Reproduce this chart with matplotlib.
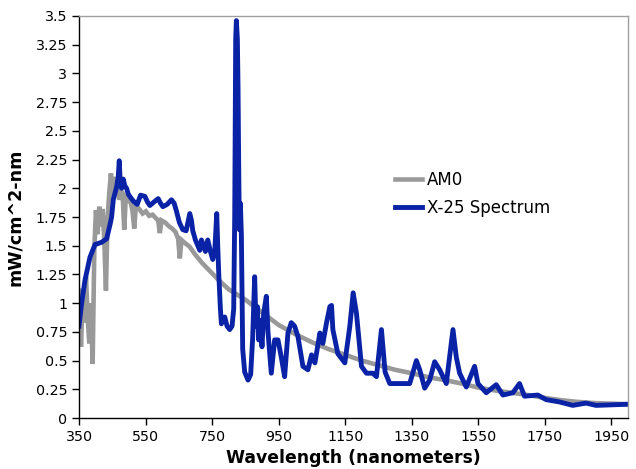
import matplotlib
matplotlib.use("Agg")
import matplotlib.pyplot as plt
from matplotlib.ticker import FixedLocator, FuncFormatter

# AM0 reference spectrum (wavelength nm, mW/cm^2-nm)
am0_nm = [350, 356, 361, 366, 371, 376, 381, 386, 391, 396, 401, 406, 411, 416, 421,
          426, 431, 436, 441, 446, 451, 456, 461, 466, 471, 476, 481, 486, 491, 498,
          506, 511, 516, 521, 531, 541, 551, 561, 571, 581, 588, 593, 598, 610, 620,
          630, 640, 648, 653, 658, 670, 683, 700, 720, 740, 770, 800, 850, 900, 950,
          1000, 1050, 1100, 1150, 1200, 1250, 1300, 1350, 1400, 1450, 1500, 1550,
          1600, 1650, 1700, 1750, 1800, 1850, 1900, 1950, 2000]
am0_val = [1.11, 0.62, 1.06, 0.83, 1.23, 0.88, 0.65, 1.00, 0.47, 1.46, 1.81, 1.60, 1.84, 1.67, 1.82,
           1.55, 1.11, 1.75, 1.96, 2.13, 1.90, 2.10, 1.95, 2.00, 1.90, 1.98, 1.96, 1.64, 1.95, 1.90,
           1.87, 1.80, 1.65, 1.85, 1.82, 1.78, 1.80, 1.76, 1.77, 1.74, 1.72, 1.61, 1.72, 1.70, 1.67,
           1.65, 1.62, 1.56, 1.39, 1.55, 1.52, 1.49, 1.42, 1.35, 1.29, 1.20, 1.12, 1.03, 0.92, 0.81,
           0.73, 0.66, 0.60, 0.55, 0.50, 0.46, 0.42, 0.39, 0.355, 0.33, 0.30, 0.265,
           0.24, 0.22, 0.20, 0.175, 0.155, 0.14, 0.13, 0.125, 0.12]

# X-25 simulator spectrum
x25_nm = [350, 358, 368, 383, 398, 418, 433, 443, 448, 453, 463, 468, 471, 474, 478,
          483, 488, 493, 498, 505, 513, 525, 535, 548, 556, 563, 575, 588, 595, 602,
          615, 628, 636, 643, 652, 662, 672, 683, 688, 692, 700, 713, 718, 722, 730,
          737, 745, 752, 758, 764, 767, 770, 775, 778, 783, 788, 795, 803, 810, 815,
          818, 821, 823, 826, 828, 830, 832, 835, 838, 842, 848, 858, 866, 872, 878,
          882, 886, 890, 895, 900, 905, 913, 918, 928, 938, 948, 958, 968, 978, 988,
          998, 1008, 1023, 1038, 1049, 1059, 1074, 1083, 1094, 1104, 1109, 1113, 1128, 1149, 1164,
          1174, 1184, 1199, 1214, 1233, 1244, 1259, 1270, 1284, 1344, 1364, 1374, 1389, 1404, 1419,
          1434, 1454, 1474, 1484, 1494, 1514, 1539, 1549, 1574, 1604, 1624, 1654, 1674, 1689, 1729,
          1754, 1794, 1834, 1874, 1904, 2000]
x25_val = [0.80, 1.00, 1.20, 1.40, 1.51, 1.53, 1.56, 1.68, 1.75, 1.90, 2.01, 2.10, 2.24, 2.05, 2.00,
           2.08, 2.02, 2.00, 1.95, 1.92, 1.89, 1.86, 1.94, 1.93, 1.88, 1.85, 1.88, 1.91, 1.87, 1.84,
           1.86, 1.90, 1.87, 1.80, 1.70, 1.64, 1.63, 1.78, 1.72, 1.63, 1.55, 1.46, 1.55, 1.52, 1.45,
           1.55, 1.45, 1.38, 1.45, 1.78, 1.50, 1.26, 0.95, 0.82, 0.86, 0.88, 0.80, 0.77, 0.80, 0.95,
           1.75, 3.30, 3.46, 3.30, 2.88, 2.20, 1.64, 1.87, 1.60, 0.60, 0.40, 0.33, 0.38, 0.70, 1.23,
           0.80, 0.97, 0.68, 0.85, 0.62, 0.91, 1.06, 0.75, 0.39, 0.68, 0.68, 0.53, 0.36, 0.74, 0.83,
           0.80, 0.71, 0.45, 0.42, 0.55, 0.48, 0.74, 0.65, 0.83, 0.97, 0.98, 0.77, 0.56, 0.48, 0.80,
           1.09, 0.91, 0.45, 0.39, 0.39, 0.36, 0.77, 0.40, 0.30, 0.30, 0.50, 0.42, 0.26, 0.33, 0.49,
           0.42, 0.30, 0.77, 0.53, 0.39, 0.27, 0.45, 0.30, 0.22, 0.29, 0.20, 0.22, 0.30, 0.19, 0.20,
           0.16, 0.14, 0.11, 0.13, 0.11, 0.12]

x_ticks = [350, 550, 750, 950, 1150, 1350, 1550, 1750, 1950]
y_ticks = [0, 0.25, 0.5, 0.75, 1, 1.25, 1.5, 1.75, 2, 2.25, 2.5, 2.75, 3, 3.25, 3.5]

plt.rcParams['font.family'] = ['DejaVu Sans']

fig = plt.figure(figsize=(6.36, 4.69), dpi=100)
ax = fig.add_axes([0.1242, 0.1087, 0.8632, 0.8572])

ax.plot(am0_nm, am0_val, color='#999999', lw=3.3, label='AM0', solid_joinstyle='miter')
ax.plot(x25_nm, x25_val, color='#0a22a5', lw=3.5, label='X-25 Spectrum', solid_joinstyle='round')

ax.set_xlim(350, 2000)
ax.set_ylim(0, 3.5)
ax.xaxis.set_major_locator(FixedLocator(x_ticks))
ax.yaxis.set_major_locator(FixedLocator(y_ticks))
ax.yaxis.set_major_formatter(FuncFormatter(lambda v, p: f"{v:g}"))
ax.tick_params(direction='out', length=5, width=1, colors='black', labelsize=10.3)

for s in ['top', 'right']:
    ax.spines[s].set_color('#a0a0a0')
    ax.spines[s].set_linewidth(1)
for s in ['left', 'bottom']:
    ax.spines[s].set_color('black')
    ax.spines[s].set_linewidth(1)

ax.set_xlabel('Wavelength (nanometers)', fontsize=12.4, fontweight='bold', labelpad=4)
ax.set_ylabel('mW/cm^2-nm', fontsize=12.6, fontweight='bold', labelpad=8)

leg = ax.legend(loc='center left', bbox_to_anchor=(0.5756, 0.558), frameon=False,
                fontsize=12, handlelength=1.6, handletextpad=0.3, labelspacing=0.6,
                borderpad=0, borderaxespad=0)

fig.savefig('out.png', dpi=100)
